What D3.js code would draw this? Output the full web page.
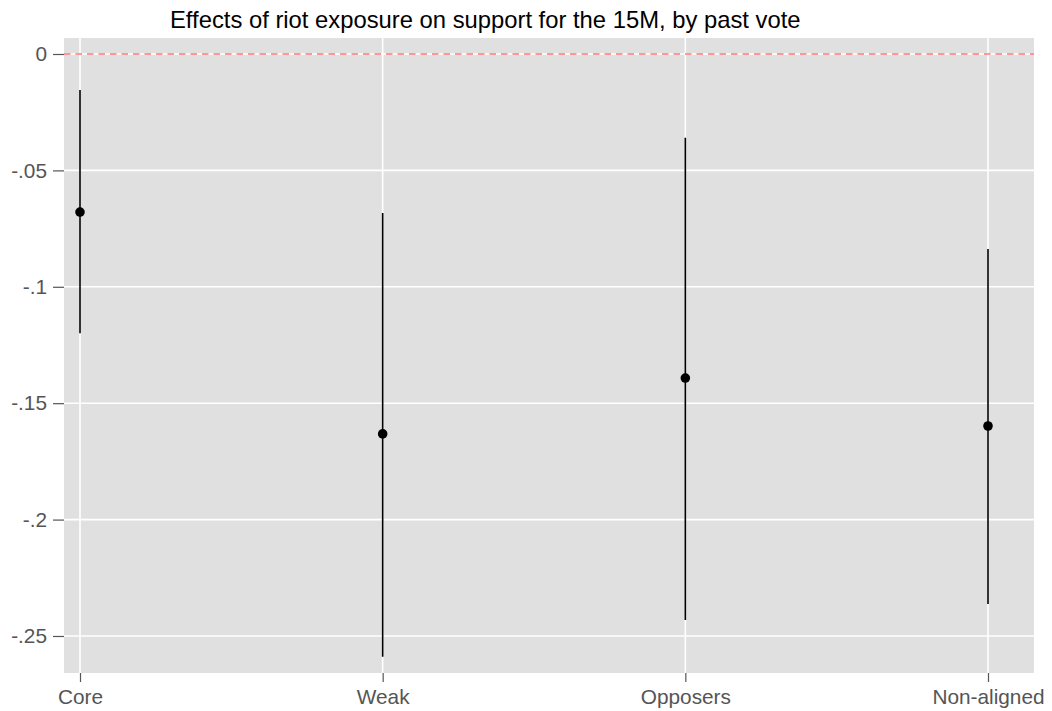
<!DOCTYPE html>
<html>
<head>
<meta charset="utf-8">
<script src="https://cdn.jsdelivr.net/npm/d3@7"></script>
<style>
  body { margin: 0; background: #fff; }
</style>
</head>
<body>
<div id="chart"></div>
<script>
const groups = ["Core", "Weak", "Opposers", "Non-aligned"];
const estimates = [-0.0679, -0.1632, -0.1392, -0.1598];
const lower = [-0.1200, -0.2589, -0.2431, -0.2363];
const upper = [-0.0155, -0.0683, -0.0360, -0.0838];
const yTicks = [0, -0.05, -0.1, -0.15, -0.2, -0.25];
const yTickLabels = ["0", "-.05", "-.1", "-.15", "-.2", "-.25"];

const data = groups.map((g, i) => ({
    group: g,
    est: estimates[i],
    lo: lower[i],
    hi: upper[i]
}));

const width = 1052;
const height = 711;
const margin = { top: 38, right: 18, bottom: 38, left: 64 };
const innerW = width - margin.left - margin.right;
const innerH = height - margin.top - margin.bottom;
const font = "'Liberation Sans', Arial, Helvetica, sans-serif";

const svg = d3.select("#chart")
    .append("svg")
    .attr("width", width)
    .attr("height", height)
    .style("font-family", font);

const g = svg.append("g")
    .attr("transform", `translate(${margin.left},${margin.top})`);

const xScale = d3.scalePoint()
    .domain(groups)
    .range([16, 924])
    .padding(0);

const yScale = d3.scaleLinear()
    .domain([0.00687, -0.2659])
    .range([0, innerH]);

// panel background
g.append("rect")
    .attr("width", innerW)
    .attr("height", innerH)
    .attr("fill", "#e0e0e0");

// grid
g.selectAll(".hgrid")
    .data(yTicks)
    .enter()
    .append("line")
    .attr("x1", 0)
    .attr("x2", innerW)
    .attr("y1", d => yScale(d))
    .attr("y2", d => yScale(d))
    .attr("stroke", "#fff")
    .attr("stroke-width", 1.6);

g.selectAll(".vgrid")
    .data(groups)
    .enter()
    .append("line")
    .attr("x1", d => xScale(d))
    .attr("x2", d => xScale(d))
    .attr("y1", 0)
    .attr("y2", innerH)
    .attr("stroke", "#fff")
    .attr("stroke-width", 1.6);

// reference line at zero
g.append("line")
    .attr("x1", 0)
    .attr("x2", innerW)
    .attr("y1", yScale(0))
    .attr("y2", yScale(0))
    .attr("stroke", "#ff7878")
    .attr("stroke-width", 1.4)
    .attr("stroke-dasharray", "6.5,5");

// intervals
g.selectAll(".ci")
    .data(data)
    .enter()
    .append("line")
    .attr("x1", d => xScale(d.group))
    .attr("x2", d => xScale(d.group))
    .attr("y1", d => yScale(d.hi))
    .attr("y2", d => yScale(d.lo))
    .attr("stroke", "#000")
    .attr("stroke-width", 1.6);

g.selectAll(".pt")
    .data(data)
    .enter()
    .append("circle")
    .attr("cx", d => xScale(d.group))
    .attr("cy", d => yScale(d.est))
    .attr("r", 4.8)
    .attr("fill", "#000");

// axes
const yAxis = d3.axisLeft(yScale)
    .tickValues(yTicks)
    .tickFormat((d, i) => yTickLabels[i])
    .tickSize(11)
    .tickPadding(6);

const yg = g.append("g").call(yAxis);
yg.select(".domain").remove();
yg.selectAll("line").attr("stroke", "#555").attr("stroke-width", 1.2);
yg.selectAll("text").attr("fill", "#555").attr("font-size", "20.8px")
    .attr("font-family", font);

const xAxis = d3.axisBottom(xScale)
    .tickSize(9)
    .tickPadding(7);

const xg = g.append("g")
    .attr("transform", `translate(0,${innerH})`)
    .call(xAxis);
xg.select(".domain").remove();
xg.selectAll("line").attr("stroke", "#555").attr("stroke-width", 1.2);
xg.selectAll("text").attr("fill", "#555").attr("font-size", "20.8px")
    .attr("font-family", font);

// title
svg.append("text")
    .attr("x", 170)
    .attr("y", 28)
    .attr("font-size", "23.8px")
    .attr("fill", "#000")
    .text("Effects of riot exposure on support for the 15M, by past vote");
</script>
</body>
</html>
